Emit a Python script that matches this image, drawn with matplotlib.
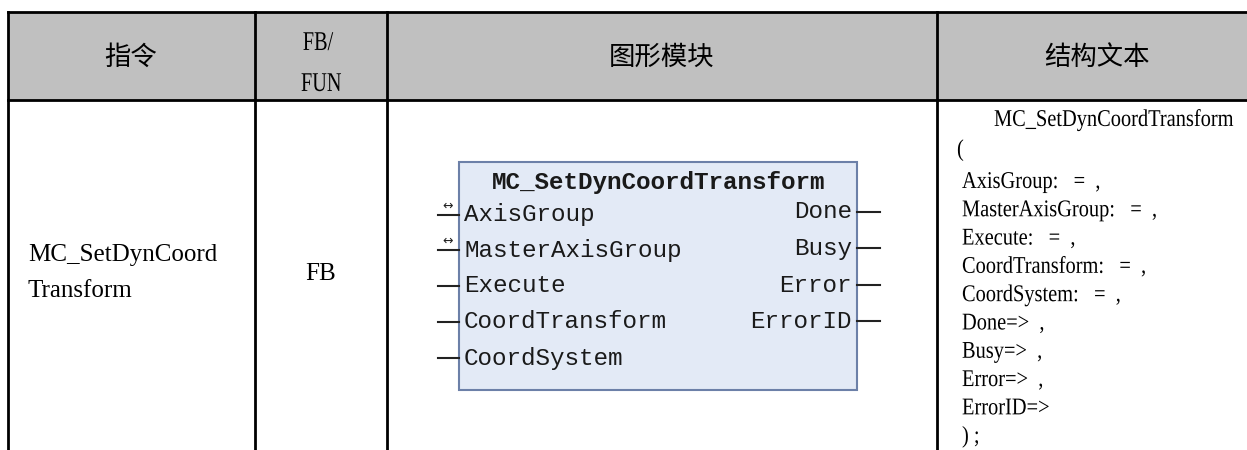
import matplotlib.pyplot as plt
from matplotlib.patches import Rectangle, PathPatch
from matplotlib.textpath import TextPath
from matplotlib.font_manager import FontProperties
from matplotlib.transforms import Affine2D

# table content
headers = ['指令', 'FB/\nFUN', '图形模块', '结构文本']
instr_name = ['MC_SetDynCoord', 'Transform']
fb_type = 'FB'
block_title = 'MC_SetDynCoordTransform'
block_inputs = ['AxisGroup', 'MasterAxisGroup', 'Execute', 'CoordTransform', 'CoordSystem']
inout_pins = ['AxisGroup', 'MasterAxisGroup']
block_outputs = ['Done', 'Busy', 'Error', 'ErrorID']
st_lines = ['AxisGroup:   =  ,', 'MasterAxisGroup:   =  ,', 'Execute:   =  ,',
            'CoordTransform:   =  ,', 'CoordSystem:   =  ,', 'Done=>  ,', 'Busy=>  ,',
            'Error=>  ,', 'ErrorID=>', ') ;']

W, H = 1247, 450
fig = plt.figure(figsize=(W / 100, H / 100), dpi=100)
ax = fig.add_axes([0, 0, 1, 1])
ax.set_xlim(0, W)
ax.set_ylim(H, 0)
ax.axis('off')

cjk = ['Noto Sans CJK SC', 'DejaVu Sans']
serif = 'Liberation Serif'
mono = 'Liberation Mono'
serif_prop = FontProperties(family=serif)


def narrow_text(x, y, s, px, sx=0.9, ha='left'):
    # text drawn as a path so it can be squeezed sideways like the narrow song font
    tp = TextPath((0, 0), s, size=px, prop=serif_prop)
    w = tp.get_extents().x1 * sx
    if ha == 'center':
        x = x - w / 2
    base = y + 0.662 * px / 2
    tr = Affine2D().scale(sx, -1).translate(x, base) + ax.transData
    ax.add_patch(PathPatch(tp, transform=tr, facecolor='black', edgecolor='none'))


# grid
col_x = [8, 255, 387, 937]
top, head_bot = 12, 100
ax.add_patch(Rectangle((col_x[0], top), W - col_x[0], head_bot - top,
                       facecolor='#c0c0c0', edgecolor='none'))
ax.plot([col_x[0], W], [top, top], color='black', lw=2)
ax.plot([col_x[0], W], [head_bot, head_bot], color='black', lw=2)
for x in col_x:
    ax.plot([x, x], [top, H], color='black', lw=2)

# header
centers = [131, 321, 662, 1097]
for i, h in enumerate(headers):
    if i == 1:
        a, b = h.split('\n')
        narrow_text(centers[i] - 3, 41, a, 27, sx=0.75, ha='center')
        narrow_text(centers[i], 82, b, 27, sx=0.75, ha='center')
    else:
        ax.text(centers[i], 57, h, ha='center', va='center', fontsize=19,
                family=cjk, fontweight='medium')

# first two columns
ax.text(28, 255, instr_name[0], ha='left', va='center', fontsize=18, family=serif)
ax.text(28, 291, instr_name[1], ha='left', va='center', fontsize=18, family=serif)
ax.text(321, 274, fb_type, ha='center', va='center', fontsize=18, family=serif)

# function block
bx0, by0, bx1, by1 = 459, 162, 857, 390
ax.add_patch(Rectangle((bx0, by0), bx1 - bx0, by1 - by0, facecolor='#e3eaf6',
                       edgecolor='#6c80a8', lw=1.5))
ax.text((bx0 + bx1) / 2 + 1, 182, block_title, ha='center', va='center', fontsize=17.5,
        family=mono, fontweight='bold', color='#1a1a1a')
in_y = [215, 250, 286, 322, 358]
for name, y in zip(block_inputs, in_y):
    ax.plot([438, bx0], [y, y], color='#222222', lw=1.5)
    ax.text(bx0 + 5, y, name, ha='left', va='center', fontsize=17.5, family=mono,
            color='#1a1a1a')
    if name in inout_pins:
        ax.text(448, y - 9, '↔', ha='center', va='center', fontsize=9,
                family='DejaVu Sans', color='#222222')
out_y = [212, 248, 285, 321]
for name, y in zip(block_outputs, out_y):
    ax.plot([bx1, 880], [y, y], color='#222222', lw=1.5)
    ax.text(bx1 - 5, y, name, ha='right', va='center', fontsize=17.5, family=mono,
            color='#1a1a1a')

# structured text
narrow_text(994, 118, block_title, 24, sx=0.85)
narrow_text(957, 148, '(', 24, sx=0.85)
for i, line in enumerate(st_lines):
    narrow_text(962, 180 + 28.3 * i, line, 24, sx=0.85)

fig.savefig('out.png', dpi=100)
